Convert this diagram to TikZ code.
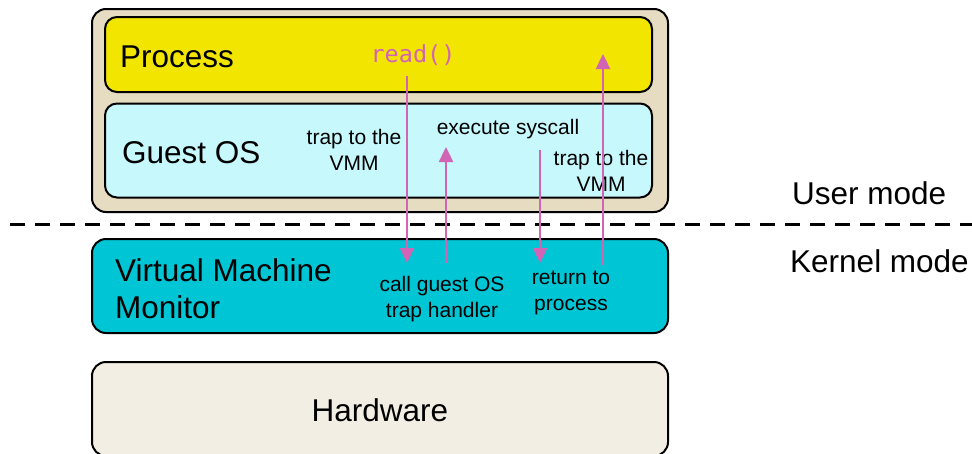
\documentclass[tikz,border=0pt]{standalone}
\usepackage{fontspec}
\setmainfont{Liberation Sans}
\newfontfamily\codefont{DejaVu Sans Mono}
\usetikzlibrary{arrows.meta}

\definecolor{shellTan}{HTML}{E6DCC2}
\definecolor{procYellow}{HTML}{F2E600}
\definecolor{guestCyan}{HTML}{C6F8FC}
\definecolor{vmmCyan}{HTML}{00C5D5}
\definecolor{hwBeige}{HTML}{F3EEE3}
\definecolor{callPink}{HTML}{D264B6}

\tikzset{
  layer/.style={draw=black, line width=2pt, rounded corners=14pt,
                inner sep=0pt, minimum width=#1},
  biglabel/.style={font=\fontsize{31.5}{37}\selectfont, inner sep=0pt, align=left},
  smalllabel/.style={font=\fontsize{21}{26}\selectfont, inner sep=0pt, align=center},
  flow/.style={draw=callPink, line width=2.4pt,
               -{Triangle[width=14pt,length=15pt]}},
}

\begin{document}
\begin{tikzpicture}[x=1pt, y=-1pt]
  \useasboundingbox (0,0) rectangle (972,453);

  % layers of the stack
  \node[layer=576pt, minimum height=203pt, fill=shellTan] (shell) at (380,110.5) {};
  \node[layer=547pt, minimum height=75pt, fill=procYellow, rounded corners=12pt] (proc) at (378.5,54.5) {};
  \node[layer=547pt, minimum height=94pt, fill=guestCyan, rounded corners=12pt] (guest) at (378.5,150.5) {};
  \node[layer=576pt, minimum height=94pt, fill=vmmCyan] (vmm) at (380,286) {};
  \node[layer=576pt, minimum height=94pt, fill=hwBeige] (hw) at (380,409) {};

  % user / kernel boundary
  \coordinate (lineL) at (10,224);
  \coordinate (lineR) at (972,224);
  \draw[line width=3pt, dash pattern=on 15pt off 10pt] (lineL) -- (lineR);

  % layer titles
  \node[biglabel, anchor=west] (procT) at (120,57) {Process};
  \node[biglabel, anchor=west] (guestT) at (122,153) {Guest OS};
  \node[biglabel, anchor=west] (vmmT) at (115,288.5) {Virtual Machine\\Monitor};
  \node[biglabel] (hwT) at (380,410) {Hardware};
  \node[biglabel, anchor=west] (userT) at (792,193) {User mode};
  \node[biglabel, anchor=west] (kernT) at (790,261) {Kernel mode};

  % step labels
  \node[font=\codefont\fontsize{23.5}{28}\selectfont, text=callPink, inner sep=0pt] (rd) at (413,55) {read()};
  \node[smalllabel] (trap1) at (354,149.5) {trap to the\\VMM};
  \node[smalllabel] (exec) at (508,129) {execute syscall};
  \node[smalllabel] (trap2) at (601,171) {trap to the\\VMM};
  \node[smalllabel] (callh) at (442,299.5) {call guest OS\\trap handler};
  \node[smalllabel] (ret) at (571,292.5) {return to\\process};

  % control flow of the system call
  \coordinate (a1s) at (407,76);  \coordinate (a1e) at (407,263);
  \coordinate (a2s) at (446,263); \coordinate (a2e) at (446,147);
  \coordinate (a3s) at (540,150); \coordinate (a3e) at (540,263);
  \coordinate (a4s) at (603,265); \coordinate (a4e) at (603,54);
  \draw[flow] (a1s) -- (a1e);
  \draw[flow] (a2s) -- (a2e);
  \draw[flow] (a3s) -- (a3e);
  \draw[flow] (a4s) -- (a4e);
\end{tikzpicture}
\end{document}
